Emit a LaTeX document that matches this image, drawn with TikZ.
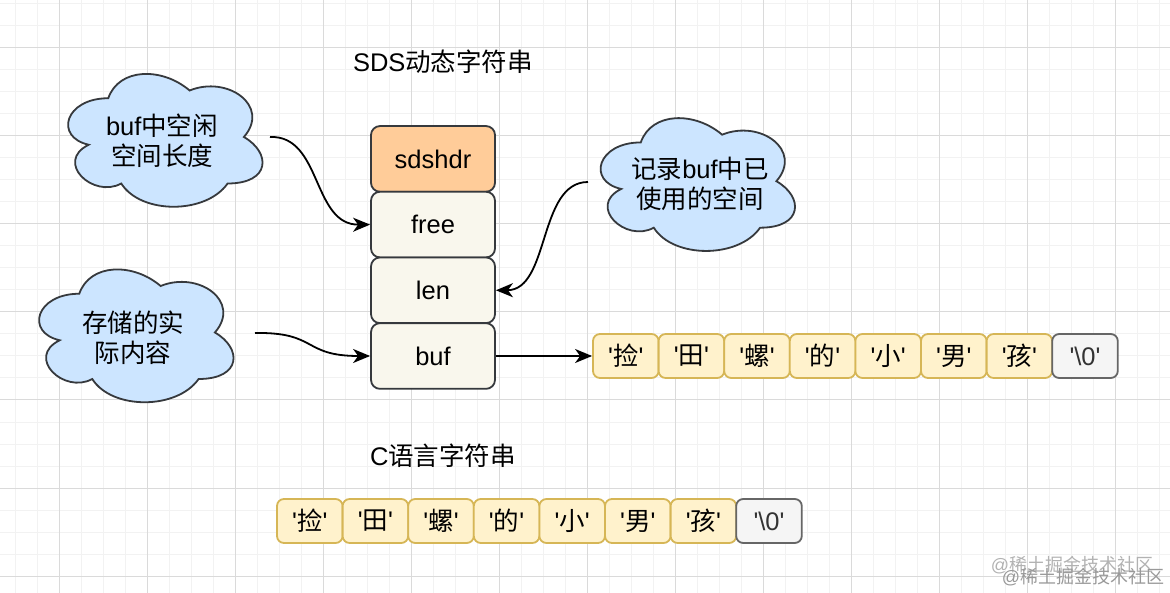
\documentclass[tikz,border=0pt]{standalone}
\usepackage{fontspec}
\setmainfont{Liberation Sans}
\newfontfamily\cjk{Noto Sans CJK SC}
\usetikzlibrary{arrows.meta}
\definecolor{strokeD}{HTML}{36393D}
\definecolor{hdrfill}{HTML}{FFCC99}
\definecolor{fldfill}{HTML}{F9F7ED}
\definecolor{cloudfill}{HTML}{CCE5FF}
\definecolor{cellfill}{HTML}{FFF2CC}
\definecolor{cellstroke}{HTML}{D6B656}
\definecolor{endfill}{HTML}{F5F5F5}
\definecolor{endstroke}{HTML}{666666}
\definecolor{endtext}{HTML}{333333}
\definecolor{gridminor}{HTML}{F2F2F2}
\definecolor{gridmajor}{HTML}{DADADA}
\newcommand\q{\textquotesingle}
\newcommand\cloudpath[2]{%
  \begin{scope}[shift={(#1pt,-#2pt)},x=217pt,y=-155pt]
    \path[cloudsty] (.25,.25) .. controls (.05,.25) and (0,.5) .. (.16,.55)
      .. controls (0,.66) and (.18,.9) .. (.31,.8)
      .. controls (.4,1) and (.7,1) .. (.8,.8)
      .. controls (1,.8) and (1,.6) .. (.875,.5)
      .. controls (1,.3) and (.8,.1) .. (.625,.2)
      .. controls (.5,.05) and (.3,.05) .. (.25,.25) -- cycle;
  \end{scope}}
\begin{document}
\begin{tikzpicture}[x=1pt,y=-1pt,
  txt/.style={font=\fontsize{25.5}{30}\selectfont, align=center, inner sep=0pt},
  cloudsty/.style={fill=cloudfill, draw=strokeD, line width=1.8pt},
  field/.style={draw=strokeD, line width=1.8pt, rounded corners=9pt,
    minimum width=124pt, minimum height=65.7pt, inner sep=0pt,
    font=\fontsize{25.5}{30}\selectfont},
  hdr/.style={field, fill=hdrfill},
  fld/.style={field, fill=fldfill},
  cell/.style={draw=cellstroke, fill=cellfill, line width=1.8pt, rounded corners=7pt,
    minimum width=65.6pt, minimum height=44pt, inner sep=0pt,
    font=\fontsize{25.5}{30}\selectfont},
  endcell/.style={cell, draw=endstroke, fill=endfill, text=endtext},
  conn/.style={line width=1.8pt, -{Stealth[length=17pt,width=14pt,inset=5pt]}},
  wm/.style={font=\fontsize{18}{20}\selectfont, inner sep=0pt}]
\useasboundingbox (0,0) rectangle (1170,593);
\fill[white] (0,0) rectangle (1170,593);
% grid
\foreach \x in {15,37,...,1170} \draw[gridminor, line width=1pt] (\x,0) -- (\x,593);
\foreach \y in {4,26,...,593} \draw[gridminor, line width=1pt] (0,\y) -- (1170,\y);
\foreach \x in {59,147,...,1170} \draw[gridmajor, line width=1pt] (\x,0) -- (\x,593);
\foreach \y in {48,136,...,593} \draw[gridmajor, line width=1pt] (0,\y) -- (1170,\y);
% titles
\node[txt] (t1) at (443,62) {SDS{\cjk 动态字符串}};
\node[txt] (t2) at (443,456) {C{\cjk 语言字符串}};
% clouds
\cloudpath{54}{59.5}
\cloudpath{586.5}{103.7}
\cloudpath{25}{255}
\node[txt] (c1) at (162,141) {buf{\cjk 中空闲}\\{\cjk 空间长度}};
\node[txt] (c2) at (700,184) {{\cjk 记录}buf{\cjk 中已}\\{\cjk 使用的空间}};
\node[txt] (c3) at (133,338) {{\cjk 存储的实}\\{\cjk 际内容}};
% stack
\node[hdr] (sdshdr) at (433,158.9) {sdshdr};
\node[fld] (free) at (433,224.6) {free};
\node[fld] (len) at (433,290.3) {len};
\node[fld] (buf) at (433,356) {buf};
% arrays
\foreach \i/\c in {0/捡,1/田,2/螺,3/的,4/小,5/男,6/孩}{
  \node[cell] (a\i) at ({625.8+65.6*\i},356) {\q{\cjk \c}\q};
  \node[cell] (b\i) at ({309.8+65.6*\i},521) {\q{\cjk \c}\q};
}
\node[endcell] (a7) at ({625.8+65.6*7},356) {\q\textbackslash 0\q};
\node[endcell] (b7) at ({309.8+65.6*7},521) {\q\textbackslash 0\q};
% connectors
\coordinate (s1) at (270,137);
\coordinate (s2) at (588,182);
\coordinate (s3) at (255,333);
\draw[conn] (s1) .. controls (322,135) and (312,225) .. (free.west);
\draw[conn] (s2) .. controls (538,182) and (550,290) .. (len.east);
\draw[conn] (s3) .. controls (318,332) and (302,356) .. (buf.west);
\draw[conn] (buf.east) -- (a0.west);
% watermark
\node[wm, text=black!30] (w1) at (1072,565) {@{\cjk 稀土掘金技术社区}};
\node[wm, text=black!40] (w2) at (1083,577) {@{\cjk 稀土掘金技术社区}};
\end{tikzpicture}
\end{document}
